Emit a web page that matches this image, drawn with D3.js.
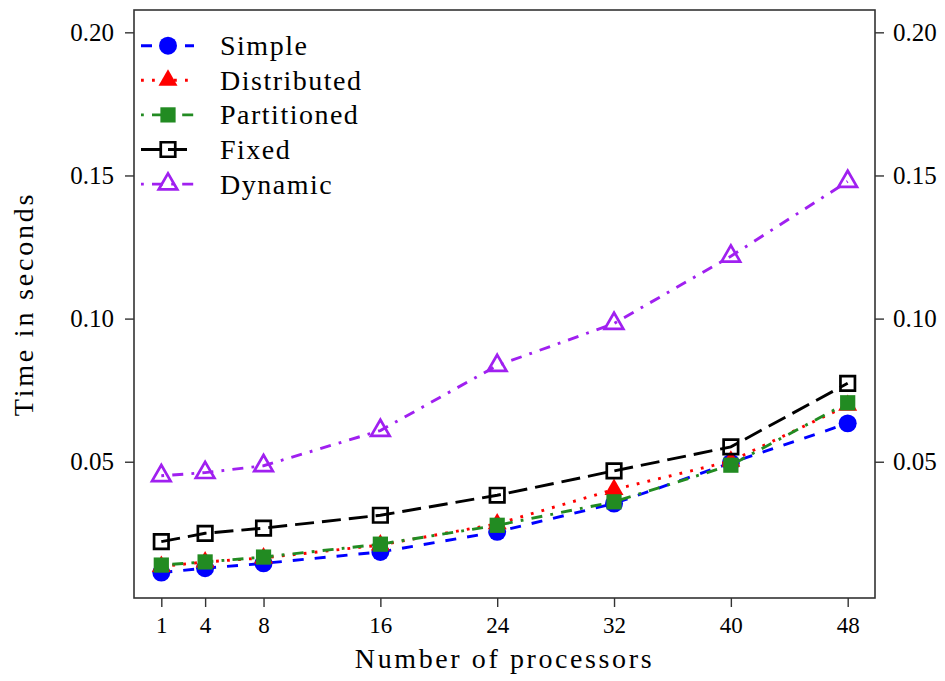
<!DOCTYPE html>
<html>
<head>
<meta charset="utf-8">
<script src="https://cdn.jsdelivr.net/npm/d3@7"></script>
<style>
  html, body { margin: 0; padding: 0; background: #fff; }
  svg { display: block; }
  text { font-family: "Liberation Serif", "Times New Roman", Times, serif; fill: #000; }
</style>
</head>
<body>
<svg id="chart" width="945" height="681"></svg>
<script>
// Processor counts on the x axis
const processors = [1, 4, 8, 16, 24, 32, 40, 48];

// Timings (seconds) for each scheduling scheme
const simple      = [0.0113, 0.0128, 0.0145, 0.0185, 0.0255, 0.0354, 0.0496, 0.0634];
const distributed = [0.0134, 0.0150, 0.0164, 0.0209, 0.0283, 0.0403, 0.0502, 0.0697];
const partitioned = [0.0139, 0.0150, 0.0167, 0.0212, 0.0278, 0.0360, 0.0488, 0.0706];
const fixed       = [0.0221, 0.0250, 0.0268, 0.0313, 0.0383, 0.0468, 0.0552, 0.0774];
const dynamic     = [0.0451, 0.0462, 0.0486, 0.0609, 0.0836, 0.0983, 0.1218, 0.1479];

const seriesNames = ["Simple", "Distributed", "Partitioned", "Fixed", "Dynamic"];
const yTickValues = [0.05, 0.10, 0.15, 0.20];

const svg = d3.select("#chart");
const serif = '"Liberation Serif", "Times New Roman", Times, serif';

const plot = { left: 134, right: 875, top: 10, bottom: 598 };

const x = d3.scaleLinear().domain([-0.87, 49.87]).range([plot.left, plot.right]);
const y = d3.scaleLinear().domain([0.0024, 0.2078]).range([plot.bottom, plot.top]);

// Per-series drawing style
const styles = {
  Simple:      { color: "#0000ff", dash: "11,11",             symbol: d3.symbolCircle,   size: 254, filled: true },
  Distributed: { color: "#ff0000", dash: "2.8,8.2",           symbol: d3.symbolTriangle, size: 156, filled: true },
  Partitioned: { color: "#228b22", dash: "2.8,8.2,11,8.2",    symbol: d3.symbolSquare,   size: 232, filled: true },
  Fixed:       { color: "#000000", dash: "19,8",              symbol: d3.symbolSquare,   size: 210, filled: false },
  Dynamic:     { color: "#a020f0", dash: "2.8,8.2,11,8.2",    symbol: d3.symbolTriangle, size: 150, filled: false }
};

const seriesValues = {
  Simple: simple, Distributed: distributed, Partitioned: partitioned, Fixed: fixed, Dynamic: dynamic
};

// Axes
const fmt = d3.format(".2f");

const gLeft = svg.append("g").attr("transform", `translate(${plot.left},0)`)
  .call(d3.axisLeft(y).tickValues(yTickValues).tickFormat(fmt).tickSize(9).tickPadding(11));
const gRight = svg.append("g").attr("transform", `translate(${plot.right},0)`)
  .call(d3.axisRight(y).tickValues(yTickValues).tickFormat(fmt).tickSize(9).tickPadding(9));
const gBottom = svg.append("g").attr("transform", `translate(0,${plot.bottom})`)
  .call(d3.axisBottom(x).tickValues(processors).tickFormat(d3.format("d")).tickSize(9).tickPadding(10));

[gLeft, gRight, gBottom].forEach(g => {
  g.select(".domain").remove();
  g.selectAll(".tick line").attr("stroke", "#333").attr("stroke-width", 1.4);
  g.selectAll(".tick text").attr("fill", "#000").style("font-family", serif);
});
gLeft.selectAll(".tick text").style("font-size", "25px");
gRight.selectAll(".tick text").style("font-size", "25px");
gBottom.selectAll(".tick text").style("font-size", "23px");

// Plot frame
svg.append("rect")
  .attr("x", plot.left).attr("y", plot.top)
  .attr("width", plot.right - plot.left).attr("height", plot.bottom - plot.top)
  .attr("fill", "none").attr("stroke", "#333").attr("stroke-width", 1.6);

// Axis titles
svg.append("text")
  .attr("x", (plot.left + plot.right) / 2).attr("y", 668)
  .attr("text-anchor", "middle")
  .style("font-size", "28px").style("letter-spacing", "2.6px")
  .text("Number of processors");

svg.append("text")
  .attr("transform", `translate(33,${(plot.top + plot.bottom) / 2}) rotate(-90)`)
  .attr("text-anchor", "middle")
  .style("font-size", "28px").style("letter-spacing", "2.8px")
  .text("Time in seconds");

// Series lines and markers
const line = d3.line().x((d, i) => x(processors[i])).y(d => y(d));

function drawMarker(g, name, cx, cy) {
  const s = styles[name];
  g.append("path")
    .attr("transform", `translate(${cx},${cy})`)
    .attr("d", d3.symbol().type(s.symbol).size(s.size)())
    .attr("fill", s.filled ? s.color : "none")
    .attr("stroke", s.filled ? "none" : s.color)
    .attr("stroke-width", s.filled ? 0 : 2.7);
}

seriesNames.forEach(name => {
  const s = styles[name];
  const vals = seriesValues[name];
  const g = svg.append("g");
  g.append("path")
    .attr("d", line(vals))
    .attr("fill", "none")
    .attr("stroke", s.color)
    .attr("stroke-width", 2.9)
    .attr("stroke-dasharray", s.dash);
  vals.forEach((v, i) => drawMarker(g, name, x(processors[i]), y(v)));
});

// Legend
const legend = svg.append("g");
seriesNames.forEach((name, i) => {
  const s = styles[name];
  const cy = 45.7 + i * 34.6;
  legend.append("line")
    .attr("x1", 141).attr("x2", 194).attr("y1", cy).attr("y2", cy)
    .attr("stroke", s.color).attr("stroke-width", 2.9)
    .attr("stroke-dasharray", s.dash);
  drawMarker(legend, name, 168, cy);
  legend.append("text")
    .attr("x", 220).attr("y", cy + 9.5)
    .style("font-size", "28px").style("letter-spacing", "1.5px")
    .text(name);
});
</script>
</body>
</html>
